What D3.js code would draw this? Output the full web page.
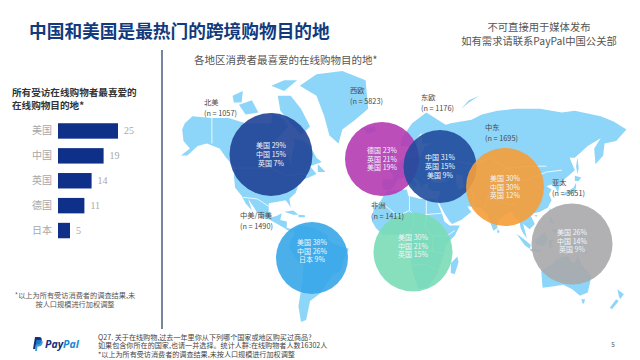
<!DOCTYPE html>
<html>
<head>
<meta charset="utf-8">
<script src="https://cdnjs.cloudflare.com/ajax/libs/d3/7.8.5/d3.min.js"></script>
<style>
html, body { margin: 0; padding: 0; background: #fff; }
svg { display: block; }
text { font-family: "Noto Sans CJK SC", "Noto Sans", sans-serif; }
</style>
</head>
<body>
<script>
// DATA
const barCategories = ['美国', '中国', '英国', '德国', '日本'];
const barValues = [25, 19, 14, 11, 5];

const regions = ['北美', '西欧', '东欧', '中东', '亚太', '中美/南美', '非洲'];
const sampleSizes = [1057, 5823, 1176, 1695, 3651, 1490, 1411];
const topCountries = [
    ['美国', '中国', '英国'],
    ['德国', '英国', '美国'],
    ['中国', '英国', '美国'],
    ['美国', '中国', '英国'],
    ['美国', '中国', '英国'],
    ['美国', '中国', '日本'],
    ['美国', '中国', '英国']
];
const topShares = [
    [29, 15, 7],
    [23, 21, 19],
    [31, 15, 9],
    [30, 30, 12],
    [26, 14, 9],
    [38, 26, 9],
    [30, 21, 15]
];

// rough coastlines, [lon, lat]
const land = [
    // north america
    [[-164,65],[-162,67],[-156,69],[-141,68.5],[-128,68.5],[-115,67],[-108,67],[-95,67],[-94,70],[-85,68],[-82,66],[-88,63],[-94,60],[-92,57],[-82,55],[-80,51],[-79,55],[-77,60],[-78,62],[-70,61],[-65,59],[-60,54],[-56,52],[-65,50],[-60,46],[-66,44],[-70,43],[-74,40],[-76,35],[-81,31],[-80,25],[-82,28],[-84,30],[-90,29],[-97,28],[-97,22],[-95,18],[-91,19],[-87,21],[-88,16],[-83,15],[-83,10],[-78,9],[-80,7],[-85,10],[-92,14],[-96,16],[-105,20],[-109,26],[-113,31],[-110,23],[-115,28],[-118,33],[-123,38],[-124,45],[-123,49],[-130,54],[-135,58],[-145,60],[-152,59],[-160,55],[-165,55],[-158,58],[-163,61]],
    // greenland
    [[-73,76],[-60,78],[-40,78.5],[-22,77],[-20,71],[-30,68],[-40,65],[-43,60],[-50,63],[-54,69],[-60,74]],
    // arctic islands
    [[-120,72],[-110,73],[-105,70],[-115,69.5]],
    [[-90,74],[-80,74],[-72,71],[-65,66],[-72,63],[-78,66],[-88,70.5]],
    [[-95,76],[-85,77],[-75,77],[-85,75]],
    [[-125,74],[-117,75],[-118,72.5],[-124,72.5]],
    [[-59,51],[-53,47],[-59,47]],
    // cuba, hispaniola
    [[-85,22],[-78,23],[-74,20],[-78,20]],
    [[-74,20],[-69,19.5],[-69,18],[-74,18]],
    // south america
    [[-78,9],[-72,12],[-62,10],[-52,5],[-50,0],[-44,-3],[-35,-6],[-39,-15],[-41,-22],[-48,-26],[-54,-34],[-58,-38],[-65,-42],[-68,-52],[-72,-53],[-74,-45],[-71,-30],[-70,-18],[-76,-14],[-81,-5],[-80,1],[-77,4]],
    // iceland, uk, ireland
    [[-24,65.5],[-15,66],[-14,64.5],[-20,63.5]],
    [[-5,58],[-2,57.5],[1,52],[1,51],[-5,50],[-3,54]],
    [[-10,54],[-6,55],[-6,52],[-10,52]],
    // eurasia
    [[-9,43],[-1,43],[-1,46],[-4,48],[2,51],[8,54],[9,57],[11,54],[20,54.5],[24,59],[30,60],[22,60],[21,64],[24,65.5],[18,62],[17,58],[13,55.5],[11,59],[5,59],[6,62],[14,67],[25,70],[40,66.5],[44,67],[60,68],[68,69.5],[80,70.5],[95,71],[105,71],[113,71],[130,70],[140,70.5],[160,69],[170,67.5],[180,65],[172,61],[163,60],[162,55],[156,51],[155,58],[160,62],[150,59],[140,54],[136,54],[140,48],[132,43],[128,39],[127,35],[125,38],[122,40],[118,39],[122,37],[120,34],[122,30],[119,25],[113,22],[108,21],[106,19],[109,13],[105,9],[100,13],[103,2],[100,6],[98,10],[97,16],[94,17],[91,22],[87,21],[80,15],[80,10],[77,8],[73,18],[72,21],[67,25],[57,26],[58,24],[60,22],[52,16],[45,13],[43,15],[39,21],[35,28],[33,30],[35,33],[36,36],[30,36],[26,38],[27,41],[23,40],[22,37],[19,42],[13,45],[18,40],[15,38],[10,44],[3,43],[0,39],[-2,37],[-6,36],[-9,38]],
    [[52,71],[58,72.5],[66,74],[58,73]],
    // africa
    [[-6,36],[10,37],[11,33],[20,31],[32,31],[34,28],[37,21],[39,15],[43,12],[51,12],[47,4],[40,-3],[39,-10],[35,-20],[33,-26],[26,-34],[19,-35],[14,-22],[12,-8],[9,0],[9,4],[-4,5],[-8,4],[-14,10],[-17,15],[-16,23],[-10,30]],
    // madagascar, sri lanka
    [[49,-12],[50,-16],[47,-25],[44,-24],[44,-17]],
    [[80,9.5],[82,7],[80,6]],
    // japan, sakhalin, taiwan
    [[130,33],[135,34],[140,35],[141,39],[141,41],[139,38],[133,35.5]],
    [[140,45],[145,44],[143,42],[140,42]],
    [[142,54],[143,49],[142,46],[141,50]],
    [[121,25],[121,22],[120,23]],
    [[109,20],[111,19.5],[110,18]],
    // philippines, indonesia, png
    [[120,18],[122,18],[124,13],[121,14]],
    [[122,9],[126,9],[126,6],[123,7]],
    [[95,5.5],[100,2],[106,-3],[105,-6],[101,-3]],
    [[105,-6],[114,-7],[114,-8.5],[106,-8]],
    [[109,1],[113,3],[117,7],[119,1],[116,-4],[110,-3]],
    [[120,1],[125,1],[122,-1],[123,-5],[120,-5]],
    [[131,-1],[141,-3],[147,-6],[150,-10],[144,-8],[138,-8],[133,-4]],
    // australia, nz
    [[114,-22],[122,-18],[126,-14],[131,-12],[136,-12],[136,-15],[140,-17],[142,-11],[146,-19],[153,-26],[150,-37],[144,-39],[138,-35],[131,-32],[124,-33],[115,-34]],
    [[145,-41],[148,-41],[147,-43.5],[146,-43.5]],
    [[173,-35],[178,-38],[175,-41],[174,-39]],
    [[172,-41],[174,-42],[169,-46.5],[167,-46]]
];
const lakes = [
    [[28,46],[34,46],[41,42],[36,41],[29,41.5]],
    [[48,46],[53,45],[54,38],[50,37],[48,41]]
];
const borders = [
    [[-141,69],[-141,60]],
    [[-123,49],[-95,49],[-83,45],[-70,46],[-67,45]],
    [[-117,32],[-106,31],[-97,26]],
    [[25,31],[25,20],[24,10],[30,4],[34,4]],
    [[12,33],[12,23],[15,20],[15,10]],
    [[-9,28],[3,19],[12,23]],
    [[37,21],[24,20]],
    [[15,10],[9,4]],
    [[12,-6],[22,-7],[30,-8],[40,-10]],
    [[14,-18],[25,-18],[33,-22]],
    [[34,4],[41,4],[47,8]],
    [[30,4],[30,-8]],
    [[60,37],[62,30],[61,25]],
    [[74,35],[70,25]],
    [[80,30],[90,27],[95,28]],
    [[74,39],[80,45],[88,49],[100,42],[118,47],[130,48]],
    [[50,52],[62,51],[74,54],[88,49],[105,50],[118,50]]
];

// LAYOUT
const width = 640, height = 360;
const blue = '#0f3088';
const bubbleLayout = [
    {cx: 271, cy: 154.5, r: 41.5, fill: '#1f4396', lx: 204, ly: 105, textY: 0},
    {cx: 382, cy: 159, r: 37, fill: '#b43bb1', lx: 350, ly: 93, textY: 0},
    {cx: 440, cy: 166.5, r: 36.5, fill: '#214b9c', lx: 421, ly: 100, textY: 0},
    {cx: 505, cy: 187, r: 39, fill: '#f59d38', lx: 485, ly: 130, textY: 0},
    {cx: 572, cy: 244, r: 40.5, fill: '#a9a9ab', lx: 552, ly: 185, textY: -3},
    {cx: 312, cy: 258, r: 36, fill: '#37a6e8', lx: 240, ly: 218, textY: -7},
    {cx: 413, cy: 252, r: 39.5, fill: '#7adcb6', lx: 371, ly: 208, textY: -6}
];

const svg = d3.select('body').append('svg').attr('width', width).attr('height', height);
svg.append('rect').attr('width', width).attr('height', height).attr('fill', '#fff');

const addText = (g, x, y, str, size, color, opts = {}) => g.append('text')
    .attr('x', x)
    .attr('y', y)
    .attr('font-size', size)
    .attr('fill', color)
    .attr('font-weight', opts.weight || 400)
    .attr('text-anchor', opts.anchor || 'start')
    .text(str);

// several lines in one text element
const addLines = (g, x, y, lines, lineHeight, size, color, opts = {}) => {
    const t = addText(g, x, y, '', size, color, opts);
    lines.forEach((l, i) => {
        t.append('tspan').attr('x', x).attr('dy', i === 0 ? 0 : lineHeight).text(l);
    });
    return t;
};

// HEADERS
addText(svg, 29, 38, '中国和美国是最热门的跨境购物目的地', 17.7, '#123a7c', {weight: 700});
addLines(svg, 539, 30.5, ['不可直接用于媒体发布', '如有需求请联系PayPal中国公关部'], 14, 10.3, '#555', {anchor: 'middle'});
addText(svg, 194, 64, '各地区消费者最喜爱的在线购物目的地*', 10.5, '#555');

svg.append('line')
    .attr('x1', 162).attr('x2', 162).attr('y1', 50).attr('y2', 329)
    .attr('stroke', '#3c5274').attr('stroke-width', 1.4);

// BAR CHART
addLines(svg, 12, 95.5, ['所有受访在线购物者最喜爱的', '在线购物目的地*'], 13, 9.6, '#333', {weight: 700});

const x = d3.scaleLinear().domain([0, 25]).range([58, 118]);
const y = d3.scaleBand().domain(barCategories).range([118.5, 243]).paddingInner(0.38).paddingOuter(0.19);

const barAxis = svg.append('g')
    .attr('transform', 'translate(52, 0)')
    .call(d3.axisLeft(y).tickSize(0).tickPadding(0));
barAxis.select('.domain').remove();
barAxis.selectAll('text')
    .attr('font-size', 10)
    .attr('fill', '#a8a8a8');

svg.selectAll('.bar')
    .data(barValues)
  .enter().append('rect')
    .attr('class', 'bar')
    .attr('x', x(0))
    .attr('y', (d, i) => y(barCategories[i]))
    .attr('width', d => x(d) - x(0))
    .attr('height', y.bandwidth())
    .attr('fill', blue);

svg.selectAll('.barValue')
    .data(barValues)
  .enter().append('text')
    .attr('class', 'barValue')
    .attr('x', d => x(d) + 6)
    .attr('y', (d, i) => y(barCategories[i]) + y.bandwidth() / 2 + 3.5)
    .attr('font-size', 10)
    .attr('fill', '#a8a8a8')
    .style('font-family', '"Liberation Serif", serif')
    .text(d => d);

addLines(svg, 75, 298, ['*以上为所有受访消费者的调查结果,未', '按人口规模进行加权调整'], 9, 7.2, '#555', {anchor: 'middle'});

// MAP
const projection = d3.geoMercator().scale(74).translate([394, 241]);
const mapLine = d3.line().x(d => projection(d)[0]).y(d => projection(d)[1]);
const mapGroup = svg.append('g').attr('class', 'map');

mapGroup.selectAll('.land')
    .data(land)
  .enter().append('path')
    .attr('class', 'land')
    .attr('d', d => mapLine(d) + 'Z')
    .attr('fill', '#8ed6f9');
mapGroup.selectAll('.lake')
    .data(lakes)
  .enter().append('path')
    .attr('class', 'lake')
    .attr('d', d => mapLine(d) + 'Z')
    .attr('fill', '#fff');
mapGroup.selectAll('.border')
    .data(borders)
  .enter().append('path')
    .attr('class', 'border')
    .attr('d', mapLine)
    .attr('fill', 'none')
    .attr('stroke', '#fff')
    .attr('stroke-width', 0.8);

// BUBBLES
const bubbleGroups = svg.selectAll('.bubble')
    .data(regions)
  .enter().append('g')
    .attr('class', 'bubble');

bubbleGroups.append('circle')
    .attr('cx', (d, i) => bubbleLayout[i].cx)
    .attr('cy', (d, i) => bubbleLayout[i].cy)
    .attr('r', (d, i) => bubbleLayout[i].r)
    .attr('fill', (d, i) => bubbleLayout[i].fill)
    .attr('fill-opacity', 0.9);

bubbleGroups.each(function (d, i) {
    const g = d3.select(this);
    const b = bubbleLayout[i];
    const lines = topCountries[i].map((c, j) => `${c} ${topShares[i][j]}%`);
    addLines(g, b.cx, b.cy + b.textY - 6.1, lines, 8.6, 7, '#f2f5fa', {anchor: 'middle'});
    addLines(g, b.lx, b.ly, [d, `(n = ${sampleSizes[i]})`], 10.5, 7.3, '#484848');
});

// FOOTER
const logo = svg.append('g').attr('class', 'logo');
logo.append('path')
    .attr('d', 'M33 349 L35 337 H39 Q42.5 337 41.5 341 Q40.5 344.5 37 344.5 H36 L35.3 349 Z')
    .attr('fill', '#14307c');
logo.append('path')
    .attr('d', 'M35 351 L36.5 340 H40 Q43.5 340 42.5 343.5 Q41.5 346.5 38.5 346.5 H37.5 L36.9 351 Z')
    .attr('fill', '#1a8ad0')
    .attr('fill-opacity', 0.85);
const logoText = addText(logo, 45, 348, '', 10.5, '#14307c', {weight: 700})
    .style('font-family', '"Open Sans", sans-serif')
    .style('font-style', 'italic');
logoText.append('tspan').text('Pay');
logoText.append('tspan').attr('fill', '#1a8ad0').text('Pal');

addLines(svg, 98, 339.5, [
    'Q27. 关于在线购物,过去一年里你从下列哪个国家或地区购买过商品?',
    '如果包含你所在的国家,也请一并选择。统计人群:在线购物者人数16302人',
    '*以上为所有受访消费者的调查结果,未按人口规模进行加权调整'
], 8.7, 7.1, '#444');
addText(svg, 613, 347, '5', 6.5, '#555', {anchor: 'middle'});
</script>
</body>
</html>
